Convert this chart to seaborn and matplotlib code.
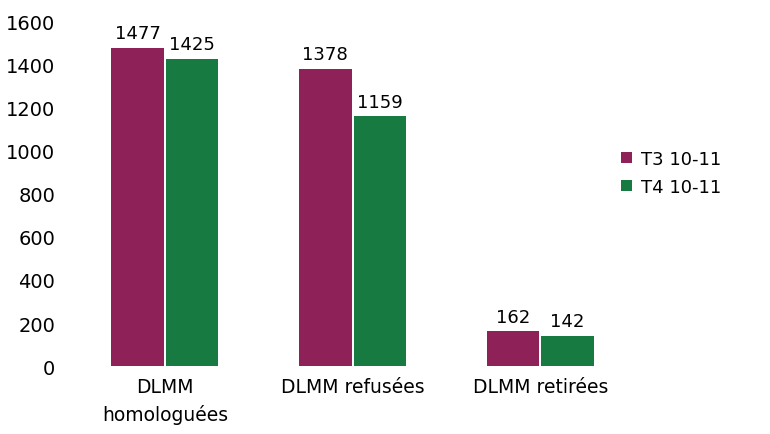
import matplotlib
matplotlib.use("Agg")
import matplotlib.pyplot as plt
import seaborn as sns
import pandas as pd

## Data
categories = ["DLMM\nhomologuées", "DLMM refusées", "DLMM retirées"]
series = ["T3 10-11", "T4 10-11"]
t3_values = [1477, 1378, 162]
t4_values = [1425, 1159, 142]
colors = ["#8E2258", "#167A41"]

df = pd.DataFrame({
    "cat": categories * 2,
    "val": t3_values + t4_values,
    "serie": [series[0]] * 3 + [series[1]] * 3,
})

sns.set_style("white")
plt.rcParams["font.family"] = ["DejaVu Sans"]
plt.rcParams["text.color"] = "black"
plt.rcParams["xtick.color"] = "black"
plt.rcParams["ytick.color"] = "black"

fig = plt.figure(figsize=(7.7, 4.35), dpi=100)
ax = fig.add_axes([0.097, 0.156, 0.695, 0.793])

sns.barplot(data=df, x="cat", y="val", hue="serie", palette=colors,
            width=0.58, gap=0.04, saturation=1, linewidth=0, ax=ax)

## Value labels above bars
for cont in ax.containers:
    ax.bar_label(cont, fontsize=13, padding=4, clip_on=False)

ax.set_ylim(0, 1600)
ax.set_xlim(-0.48, 2.37)
ax.set_yticks(range(0, 1601, 200))
ax.tick_params(axis="y", labelsize=14, length=0, pad=14)
ax.tick_params(axis="x", labelsize=13.5, length=0, pad=8)
for lab in ax.get_xticklabels():
    lab.set_linespacing(1.5)
ax.set_xlabel("")
ax.set_ylabel("")
sns.despine(ax=ax, left=True, bottom=True)

ax.legend(loc="center left", bbox_to_anchor=(0.99, 0.56), frameon=False,
          fontsize=13, handlelength=0.6, handleheight=0.6, handletextpad=0.5,
          labelspacing=0.55)

fig.savefig("out.png", dpi=100)
